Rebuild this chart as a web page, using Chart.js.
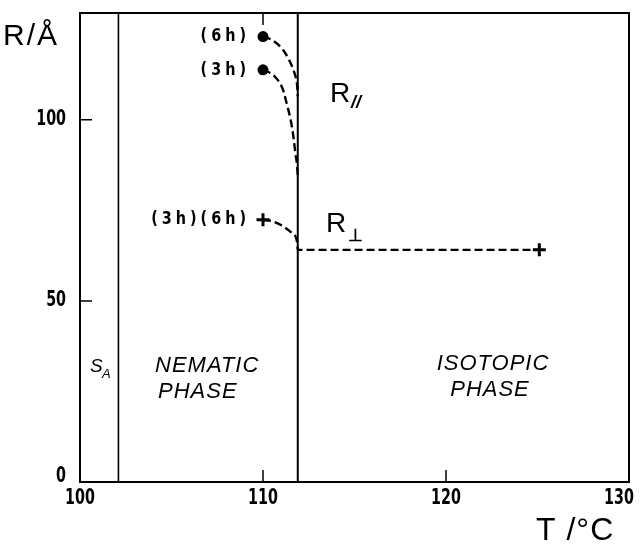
<!DOCTYPE html>
<html>
<head>
<meta charset="utf-8">
<script src="https://cdn.jsdelivr.net/npm/chart.js@4.4.1/dist/chart.umd.min.js"></script>
<style>
  html, body { margin: 0; padding: 0; background: #fff; }
  #wrap { width: 642px; height: 544px; }
</style>
</head>
<body>
<div id="wrap"><canvas id="c" width="642" height="544"></canvas></div>
<script>
// Axis ranges and tick labels
const tRange = [100, 130];
const rRange = [0, 129.5];
const tTicks = [100, 110, 120, 130];
const rTicks = [0, 50, 100];
const tInnerTicks = [110, 120];
const tTopTicks = [110];
const rInnerTicks = [50, 100];

// Phase boundaries (S_A / nematic, nematic / isotropic)
const phaseBoundaries = [102.1, 111.9];

// Measured points: temperature and correlation length
const rPar6hT = [110];        const rPar6hR = [123.0];
const rPar3hT = [110];        const rPar3hR = [113.8];
const rPerpT  = [110, 125.1]; const rPerpR  = [72.4, 64.1];

// Dashed guide curves through the measurements
const guide6hT = [110, 110.48, 111.02, 111.38, 111.66, 111.84, 111.9];
const guide6hR = [123.0, 122.1, 119.8, 117.0, 113.8, 110.6, 106.5];
const guide3hT = [110, 110.56, 111.02, 111.29, 111.51, 111.66, 111.77, 111.85, 111.9];
const guide3hR = [113.8, 112.4, 109.2, 104.6, 100.0, 95.4, 90.8, 88.0, 84.5];
const guidePerpT = [110, 110.58, 111.13, 111.59, 111.86, 111.9, 125.1];
const guidePerpR = [72.4, 71.9, 70.5, 68.7, 66.4, 64.1, 64.1];

const zip = (xs, ys) => xs.map((x, i) => ({ x: x, y: ys[i] }));

const numFont = '"DejaVu Sans", sans-serif';
const textFont = '"Liberation Sans", Arial, sans-serif';

const dashed = { borderColor: '#000', borderWidth: 2.4, borderDash: [8, 4], pointRadius: 0, showLine: true, fill: false, tension: 0.35 };

const datasets = [
  ...phaseBoundaries.map((t, i) => ({
    data: [{ x: t, y: rRange[0] }, { x: t, y: rRange[1] }],
    borderColor: '#000', borderWidth: i === 0 ? 1.6 : 2, pointRadius: 0, showLine: true, fill: false
  })),
  Object.assign({ data: zip(guide6hT, guide6hR) }, dashed),
  Object.assign({ data: zip(guide3hT, guide3hR) }, dashed),
  Object.assign({ data: zip(guidePerpT, guidePerpR) }, dashed, { cubicInterpolationMode: 'monotone' }),
  { data: zip(rPar6hT, rPar6hR).concat(zip(rPar3hT, rPar3hR)), showLine: false,
    pointStyle: 'circle', pointRadius: 5.5, backgroundColor: '#000', borderColor: '#000', borderWidth: 0 },
  { data: zip(rPerpT, rPerpR), showLine: false,
    pointStyle: 'cross', pointRadius: 6.5, borderColor: '#000', borderWidth: 3 }
];

// Condensed heavy numerals, drawn with a horizontal squeeze
function squeezed(ctx, text, x, y, align, size, k, spacing) {
  ctx.save();
  ctx.font = 'bold ' + size + 'px ' + numFont;
  ctx.letterSpacing = (spacing || 0) + 'px';
  const w = (ctx.measureText(text).width - (spacing || 0)) * k;
  let left = x;
  if (align === 'center') left = x - w / 2;
  else if (align === 'right') left = x - w;
  ctx.translate(left, y);
  ctx.scale(k, 1);
  ctx.textAlign = 'left';
  ctx.textBaseline = 'middle';
  ctx.fillText(text, 0, 0);
  ctx.restore();
}

// Frame, inward tick marks, tick labels and text annotations
const decorations = {
  id: 'decorations',
  afterDatasetsDraw(chart) {
    const ctx = chart.ctx;
    const a = chart.chartArea;
    const xs = chart.scales.x, ys = chart.scales.y;
    ctx.save();
    ctx.strokeStyle = '#000';
    ctx.fillStyle = '#000';
    ctx.lineWidth = 2;
    ctx.strokeRect(a.left, a.top, a.right - a.left, a.bottom - a.top);

    ctx.lineWidth = 1.5;
    ctx.beginPath();
    tInnerTicks.forEach(v => { const p = xs.getPixelForValue(v); ctx.moveTo(p, a.bottom); ctx.lineTo(p, a.bottom - 12); });
    tTopTicks.forEach(v => { const p = xs.getPixelForValue(v); ctx.moveTo(p, a.top); ctx.lineTo(p, a.top + 12); });
    rInnerTicks.forEach(v => { const p = ys.getPixelForValue(v); ctx.moveTo(a.left, p); ctx.lineTo(a.left + 12, p); });
    ctx.stroke();

    // Tick labels
    rTicks.forEach(v => squeezed(ctx, String(v), a.left - 14, Math.min(ys.getPixelForValue(v), a.bottom - 5), 'right', 21, 0.68));
    tTicks.forEach(v => squeezed(ctx, String(v), Math.min(xs.getPixelForValue(v), a.right - 10), a.bottom + 17, 'center', 21, 0.68));

    // Sample labels next to the points
    const x110 = xs.getPixelForValue(110);
    squeezed(ctx, '(6h)', x110 - 17, ys.getPixelForValue(rPar6hR[0]), 'right', 18, 0.8, 5);
    squeezed(ctx, '(3h)', x110 - 17, ys.getPixelForValue(rPar3hR[0]), 'right', 18, 0.8, 5);
    squeezed(ctx, '(3h)(6h)', x110 - 17, ys.getPixelForValue(rPerpR[0]), 'right', 18, 0.8, 5);

    // Axis titles
    ctx.textAlign = 'left';
    ctx.textBaseline = 'alphabetic';
    ctx.font = '30px ' + textFont;
    ctx.letterSpacing = '2px';
    ctx.fillText('R/Å', 3, 45);
    ctx.font = '32px ' + textFont;
    ctx.letterSpacing = '1px';
    ctx.fillText('T /°C', 536, 540);
    ctx.letterSpacing = '0px';

    // Series labels
    ctx.font = '28px ' + textFont;
    ctx.fillText('R', 330, 102);
    ctx.font = 'italic bold 18px ' + textFont;
    ctx.fillText('//', 351, 108);
    ctx.font = '28px ' + textFont;
    ctx.fillText('R', 326, 232);
    ctx.font = 'bold 17px ' + textFont;
    ctx.fillText('⊥', 348, 241);

    // Phase names
    ctx.font = 'italic 22px ' + textFont;
    ctx.letterSpacing = '1px';
    ctx.fillText('NEMATIC', 155, 372);
    ctx.fillText('PHASE', 158, 398);
    ctx.textAlign = 'center';
    ctx.fillText('ISOTOPIC', 493, 370);
    ctx.fillText('PHASE', 490, 396);
    ctx.letterSpacing = '0px';
    ctx.textAlign = 'left';
    ctx.font = 'italic 19px ' + textFont;
    ctx.fillText('S', 90, 372);
    ctx.font = 'italic 13px ' + textFont;
    ctx.fillText('A', 102, 378);
    ctx.restore();
  }
};

new Chart(document.getElementById('c'), {
  type: 'scatter',
  data: { datasets: datasets },
  plugins: [decorations],
  options: {
    responsive: false,
    animation: false,
    events: [],
    layout: { padding: { left: 0, right: 13, top: 13, bottom: 0 } },
    plugins: { legend: { display: false }, tooltip: { enabled: false } },
    scales: {
      x: {
        type: 'linear', min: tRange[0], max: tRange[1],
        afterBuildTicks: s => { s.ticks = tTicks.map(v => ({ value: v })); },
        afterFit: s => { s.height = 62; s.paddingLeft = 0; s.paddingRight = 0; },
        grid: { display: false, drawTicks: false },
        border: { display: false },
        ticks: { display: false }
      },
      y: {
        type: 'linear', min: rRange[0], max: rRange[1],
        afterBuildTicks: s => { s.ticks = rTicks.map(v => ({ value: v })); },
        afterFit: s => { s.width = 80; s.paddingTop = 0; s.paddingBottom = 0; },
        grid: { display: false, drawTicks: false },
        border: { display: false },
        ticks: { display: false }
      }
    }
  }
});
</script>
</body>
</html>
